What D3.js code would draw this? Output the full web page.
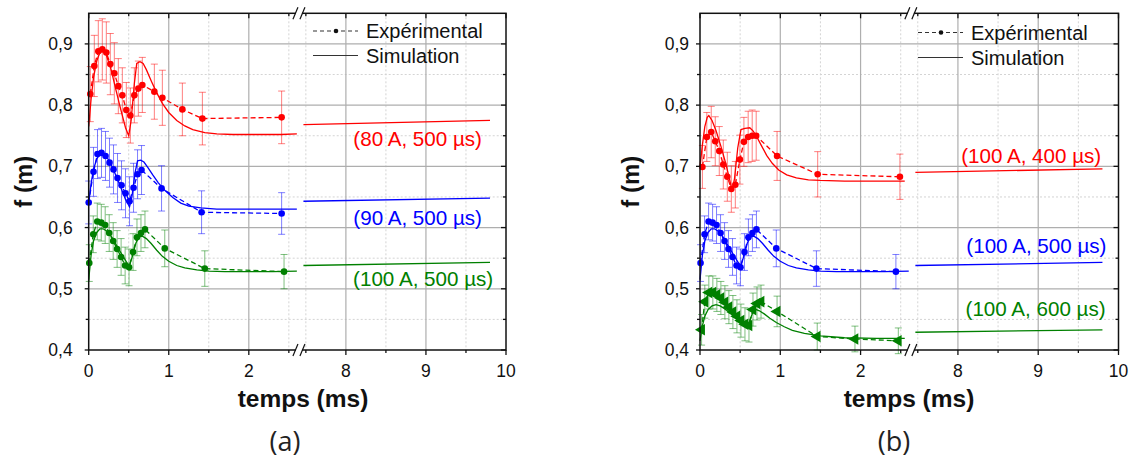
<!DOCTYPE html>
<html><head><meta charset="utf-8">
<script src="https://cdn.jsdelivr.net/npm/d3@7"></script>
<style>
body{margin:0;background:#fff}
svg{display:block}
text{font-family:"Liberation Sans",Arial,sans-serif}
</style>
</head><body>
<svg id="c" width="1136" height="474"></svg>
<script>
// ---------- axis ticks ----------
const X_TICKS = [0, 1, 2, 8, 9, 10];
const X_TICK_LABELS = ["0", "1", "2", "8", "9", "10"];
const X_MINOR = [0.5, 1.5, 2.5, 7.5, 8.5, 9.5];
const Y_TICKS = [0.4, 0.5, 0.6, 0.7, 0.8, 0.9];
const Y_TICK_LABELS = ["0,4", "0,5", "0,6", "0,7", "0,8", "0,9"];
const Y_MINOR = [0.45, 0.55, 0.65, 0.75, 0.85];
const X_BREAK = [2.62, 7.42];
const Y_DOMAIN = [0.4, 0.95];

// ---------- experimental data (ms, m, error) ----------
const exp80_t = [0.02,0.07,0.12,0.17,0.22,0.27,0.32,0.37,0.42,0.47,0.52,0.57,0.62,0.67,0.82,0.92,1.17,1.42,2.41];
const exp80_f = [0.818,0.864,0.888,0.891,0.886,0.867,0.852,0.831,0.816,0.792,0.783,0.816,0.827,0.833,0.822,0.812,0.793,0.778,0.780];
const exp80_e = [0.045,0.05,0.05,0.05,0.05,0.05,0.05,0.045,0.045,0.045,0.045,0.045,0.045,0.045,0.045,0.045,0.043,0.043,0.043];

const exp90_t = [0.0,0.06,0.11,0.16,0.21,0.26,0.31,0.36,0.41,0.46,0.51,0.56,0.61,0.66,0.91,1.41,2.41];
const exp90_f = [0.641,0.691,0.720,0.722,0.717,0.706,0.695,0.681,0.669,0.656,0.643,0.665,0.687,0.694,0.664,0.625,0.623];
const exp90_e = [0.035,0.04,0.04,0.04,0.04,0.04,0.04,0.04,0.04,0.04,0.04,0.04,0.04,0.04,0.037,0.035,0.034];

const exp100_500_t = [0.007,0.057,0.107,0.157,0.206,0.256,0.306,0.355,0.405,0.455,0.504,0.554,0.603,0.653,0.703,0.95,1.45,2.44];
const exp100_500_f = [0.542,0.589,0.610,0.608,0.604,0.591,0.578,0.565,0.552,0.538,0.535,0.560,0.584,0.591,0.597,0.566,0.533,0.528];
const exp100_500_e = [0.03,0.03,0.03,0.03,0.03,0.03,0.03,0.03,0.03,0.03,0.03,0.03,0.03,0.03,0.03,0.03,0.029,0.028];

const exp100_400_t = [0.03,0.085,0.14,0.19,0.24,0.29,0.34,0.39,0.44,0.497,0.547,0.60,0.65,0.70,0.96,1.466,2.49];
const exp100_400_f = [0.699,0.748,0.756,0.741,0.725,0.703,0.683,0.663,0.670,0.711,0.740,0.748,0.750,0.750,0.717,0.687,0.683];
const exp100_400_e = [0.035,0.04,0.042,0.04,0.04,0.04,0.04,0.038,0.038,0.04,0.04,0.042,0.042,0.04,0.04,0.037,0.037];

const exp100_600_t = [0.02,0.06,0.11,0.16,0.21,0.26,0.31,0.36,0.41,0.46,0.51,0.56,0.61,0.66,0.71,0.76,0.96,1.46,1.93,2.47];
const exp100_600_f = [0.433,0.479,0.494,0.494,0.490,0.485,0.478,0.470,0.462,0.455,0.448,0.442,0.440,0.466,0.476,0.479,0.463,0.422,0.418,0.415];
const exp100_600_e = [0.025,0.027,0.027,0.027,0.027,0.027,0.027,0.027,0.027,0.027,0.027,0.027,0.027,0.027,0.027,0.027,0.025,0.022,0.021,0.021];

// ---------- simulation curves ----------
const sim80_t = [0,0.03,0.06,0.1,0.14,0.18,0.22,0.28,0.34,0.40,0.46,0.50,0.53,0.57,0.60,0.64,0.68,0.72,0.78,0.85,0.92,1.0,1.1,1.2,1.3,1.45,1.6,1.8,2.1,2.4,2.6,7.47,9.8];
const sim80_f = [0.765,0.81,0.845,0.872,0.886,0.889,0.882,0.858,0.825,0.793,0.763,0.750,0.775,0.835,0.868,0.871,0.868,0.858,0.84,0.82,0.803,0.788,0.775,0.766,0.760,0.755,0.753,0.752,0.752,0.752,0.753,0.768,0.775];

const sim90_t = [0,0.03,0.06,0.1,0.14,0.18,0.22,0.28,0.34,0.40,0.46,0.51,0.54,0.58,0.61,0.65,0.69,0.74,0.8,0.87,0.95,1.05,1.15,1.25,1.4,1.6,1.9,2.2,2.6,7.47,9.8];
const sim90_f = [0.640,0.672,0.695,0.712,0.720,0.721,0.717,0.703,0.685,0.666,0.646,0.634,0.650,0.690,0.709,0.710,0.707,0.698,0.686,0.673,0.661,0.649,0.640,0.635,0.632,0.630,0.630,0.630,0.630,0.643,0.648];

const sim100_500_t = [0,0.03,0.06,0.1,0.14,0.18,0.24,0.30,0.36,0.42,0.48,0.51,0.55,0.59,0.63,0.67,0.72,0.78,0.85,0.92,1.0,1.1,1.2,1.35,1.5,1.7,2.0,2.3,2.6,7.47,9.8];
const sim100_500_f = [0.515,0.555,0.578,0.592,0.598,0.598,0.593,0.582,0.568,0.555,0.542,0.538,0.555,0.575,0.585,0.586,0.582,0.574,0.563,0.553,0.545,0.538,0.534,0.531,0.529,0.528,0.528,0.528,0.529,0.538,0.543];

const sim100_400_t = [0,0.03,0.06,0.09,0.11,0.15,0.2,0.26,0.32,0.37,0.40,0.43,0.47,0.51,0.56,0.62,0.66,0.70,0.76,0.83,0.9,0.98,1.08,1.2,1.35,1.5,1.8,2.2,2.55,7.47,9.8];
const sim100_400_f = [0.700,0.735,0.765,0.780,0.783,0.775,0.758,0.733,0.705,0.678,0.660,0.680,0.730,0.760,0.762,0.763,0.758,0.750,0.735,0.718,0.705,0.694,0.686,0.681,0.678,0.677,0.676,0.676,0.676,0.690,0.696];

const sim100_600_t = [0,0.03,0.06,0.1,0.15,0.2,0.25,0.3,0.36,0.42,0.48,0.54,0.6,0.63,0.66,0.7,0.74,0.8,0.87,0.95,1.05,1.15,1.3,1.5,1.8,2.2,2.55,7.47,9.8];
const sim100_600_f = [0.415,0.44,0.455,0.466,0.472,0.474,0.472,0.468,0.462,0.456,0.450,0.445,0.441,0.452,0.462,0.466,0.464,0.459,0.452,0.445,0.438,0.432,0.427,0.423,0.420,0.419,0.419,0.429,0.433];

// ---------- series labels ----------
const labelsA = ["(80 A, 500 µs)", "(90 A, 500 µs)", "(100 A, 500 µs)"];
const labelsB = ["(100 A, 400 µs)", "(100 A, 500 µs)", "(100 A, 600 µs)"];
const legendLabels = ["Expérimental", "Simulation"];
const panelTags = ["(a)", "(b)"];

// ---------- layout / styling ----------
const RED = "#ff0000", BLUE = "#0000ff", GREEN = "#008000";
const zip = (t, f, e) => t.map((v, i) => ({t: v, f: f[i], e: e ? e[i] : 0}));

const panels = [
  {
    left: 88.7, right: 506, top: 13.3, bottom: 350, tag: panelTags[0], tagX: 285,
    ylabX: 23, tickGap: 16, legX: 313, legY: [31, 55.5], titleX: 303,
    series: [
      {color: RED, exp: zip(exp80_t, exp80_f, exp80_e), sim: zip(sim80_t, sim80_f), marker: "circle",
       label: labelsA[0], lt: 9.70, lf: 0.746},
      {color: BLUE, exp: zip(exp90_t, exp90_f, exp90_e), sim: zip(sim90_t, sim90_f), marker: "circle",
       label: labelsA[1], lt: 9.70, lf: 0.617},
      {color: GREEN, exp: zip(exp100_500_t, exp100_500_f, exp100_500_e), sim: zip(sim100_500_t, sim100_500_f), marker: "circle",
       label: labelsA[2], lt: 9.84, lf: 0.516}
    ]
  },
  {
    left: 700, right: 1118.5, top: 13.3, bottom: 350, tag: panelTags[1], tagX: 894,
    ylabX: 630, tickGap: 11, legX: 918, legY: [32.5, 57.5], titleX: 909,
    series: [
      {color: RED, exp: zip(exp100_400_t, exp100_400_f, exp100_400_e), sim: zip(sim100_400_t, sim100_400_f), marker: "circle",
       label: labelsB[0], lt: 9.785, lf: 0.717},
      {color: BLUE, exp: zip(exp100_500_t, exp100_500_f, exp100_500_e), sim: zip(sim100_500_t, sim100_500_f), marker: "circle",
       label: labelsB[1], lt: 9.85, lf: 0.570},
      {color: GREEN, exp: zip(exp100_600_t, exp100_600_f, exp100_600_e), sim: zip(sim100_600_t, sim100_600_f), marker: "triangle",
       label: labelsB[2], lt: 9.84, lf: 0.467}
    ]
  }
];

const svg = d3.select("#c");

panels.forEach(p => {
  const span = X_BREAK[0] + (10 - X_BREAK[1]);
  const k = (p.right - p.left - 1) / span;
  const xb = p.left + X_BREAK[0] * k;
  const x = d3.scaleLinear().domain([0, X_BREAK[0], X_BREAK[1], 10]).range([p.left, xb, xb + 1, p.right]);
  const y = d3.scaleLinear().domain(Y_DOMAIN).range([p.bottom, p.top]);
  const g = svg.append("g");

  // grid
  g.selectAll(".gmy").data(Y_MINOR).join("line")
    .attr("x1", p.left).attr("x2", p.right).attr("y1", d => y(d)).attr("y2", d => y(d))
    .attr("stroke", "#d4d4d4").attr("stroke-width", 1).attr("stroke-dasharray", "2,2");
  g.selectAll(".gmx").data(X_MINOR).join("line")
    .attr("x1", d => x(d)).attr("x2", d => x(d)).attr("y1", p.top).attr("y2", p.bottom)
    .attr("stroke", "#d4d4d4").attr("stroke-width", 1).attr("stroke-dasharray", "2,2");
  g.selectAll(".gy").data(Y_TICKS.slice(1)).join("line")
    .attr("x1", p.left).attr("x2", p.right).attr("y1", d => y(d)).attr("y2", d => y(d))
    .attr("stroke", "#aeaeae").attr("stroke-width", 1.2);
  g.selectAll(".gx").data(X_TICKS.slice(1, -1)).join("line")
    .attr("x1", d => x(d)).attr("x2", d => x(d)).attr("y1", p.top).attr("y2", p.bottom)
    .attr("stroke", "#aeaeae").attr("stroke-width", 1.2);

  const simLine = d3.line().x(d => x(d.t)).y(d => y(d.f));
  const expLine = d3.line().x(d => x(d.t)).y(d => y(d.f));

  p.series.forEach(s => {
    // error bars
    const eb = g.append("g").attr("stroke", s.color).attr("stroke-opacity", 0.5).attr("stroke-width", 1);
    s.exp.forEach(d => {
      eb.append("line").attr("x1", x(d.t)).attr("x2", x(d.t)).attr("y1", y(d.f - d.e)).attr("y2", y(d.f + d.e));
      eb.append("line").attr("x1", x(d.t) - 3.5).attr("x2", x(d.t) + 3.5).attr("y1", y(d.f - d.e)).attr("y2", y(d.f - d.e));
      eb.append("line").attr("x1", x(d.t) - 3.5).attr("x2", x(d.t) + 3.5).attr("y1", y(d.f + d.e)).attr("y2", y(d.f + d.e));
    });
    // simulation in two segments
    const segA = s.sim.filter(d => d.t <= X_BREAK[0]);
    const segB = s.sim.filter(d => d.t >= X_BREAK[1]);
    [segA, segB].forEach(seg => {
      g.append("path").datum(seg).attr("d", simLine).attr("fill", "none")
        .attr("stroke", s.color).attr("stroke-width", 1.3);
    });
    // experimental dashed line
    g.append("path").datum(s.exp).attr("d", expLine).attr("fill", "none")
      .attr("stroke", s.color).attr("stroke-width", 1.3).attr("stroke-dasharray", "5,3");
    // markers
    if (s.marker === "circle") {
      g.selectAll(null).data(s.exp).join("circle")
        .attr("cx", d => x(d.t)).attr("cy", d => y(d.f)).attr("r", 3.3).attr("fill", s.color);
    } else {
      const sym = d3.symbol().type(d3.symbolTriangle).size(58);
      g.selectAll(null).data(s.exp).join("path")
        .attr("d", sym).attr("fill", s.color)
        .attr("transform", d => `translate(${x(d.t)},${y(d.f)}) rotate(-90)`);
    }
    // label
    g.append("text").attr("x", x(s.lt)).attr("y", y(s.lf)).attr("text-anchor", "end")
      .attr("dominant-baseline", "central").attr("font-size", "20.6px").attr("fill", s.color).text(s.label);
  });

  // frame
  g.append("rect").attr("x", p.left).attr("y", p.top).attr("width", p.right - p.left).attr("height", p.bottom - p.top)
    .attr("fill", "none").attr("stroke", "#111").attr("stroke-width", 1.5);

  // ticks
  const tk = g.append("g").attr("stroke", "#111").attr("stroke-width", 1.3);
  Y_TICKS.forEach(v => {
    tk.append("line").attr("x1", p.left - 4).attr("x2", p.left).attr("y1", y(v)).attr("y2", y(v));
    tk.append("line").attr("x1", p.right - 5).attr("x2", p.right).attr("y1", y(v)).attr("y2", y(v));
  });
  Y_MINOR.forEach(v => {
    tk.append("line").attr("x1", p.left - 3).attr("x2", p.left).attr("y1", y(v)).attr("y2", y(v));
    tk.append("line").attr("x1", p.right - 3).attr("x2", p.right).attr("y1", y(v)).attr("y2", y(v));
  });
  X_TICKS.forEach(v => {
    tk.append("line").attr("x1", x(v)).attr("x2", x(v)).attr("y1", p.bottom).attr("y2", p.bottom + 5);
    tk.append("line").attr("x1", x(v)).attr("x2", x(v)).attr("y1", p.top).attr("y2", p.top + 5);
  });
  X_MINOR.forEach(v => {
    tk.append("line").attr("x1", x(v)).attr("x2", x(v)).attr("y1", p.bottom).attr("y2", p.bottom + 3);
    tk.append("line").attr("x1", x(v)).attr("x2", x(v)).attr("y1", p.top).attr("y2", p.top + 3);
  });

  // axis break marks
  const bx = xb + 0.5;
  [p.top, p.bottom].forEach(yy => {
    g.append("rect").attr("x", bx - 3).attr("y", yy - 2).attr("width", 6).attr("height", 4).attr("fill", "#fff");
    g.append("line").attr("x1", bx - 6).attr("y1", yy + 6).attr("x2", bx - 1).attr("y2", yy - 6)
      .attr("stroke", "#111").attr("stroke-width", 1.2);
    g.append("line").attr("x1", bx + 1).attr("y1", yy + 6).attr("x2", bx + 6).attr("y2", yy - 6)
      .attr("stroke", "#111").attr("stroke-width", 1.2);
  });

  // tick labels
  g.selectAll(null).data(Y_TICKS).join("text")
    .attr("x", p.left - p.tickGap).attr("y", d => y(d)).attr("text-anchor", "end")
    .attr("dominant-baseline", "central").attr("font-size", "17.5px").attr("fill", "#111")
    .text((d, i) => Y_TICK_LABELS[i]);
  g.selectAll(null).data(X_TICKS).join("text")
    .attr("x", d => x(d)).attr("y", 377).attr("text-anchor", "middle")
    .attr("font-size", "17.5px").attr("fill", "#111")
    .text((d, i) => X_TICK_LABELS[i]);

  // axis titles
  g.append("text").attr("x", p.titleX).attr("y", 407).attr("text-anchor", "middle")
    .attr("font-size", "24.5px").attr("font-weight", "bold").attr("fill", "#111").text("temps (ms)");
  g.append("text").attr("transform", `translate(${p.ylabX},${(p.top + p.bottom) / 2}) rotate(-90)`)
    .attr("text-anchor", "middle").attr("dominant-baseline", "central")
    .attr("font-size", "24px").attr("font-weight", "bold").attr("fill", "#111").text("f (m)");

  // legend
  const lg = g.append("g");
  lg.append("line").attr("x1", p.legX).attr("x2", p.legX + 45).attr("y1", p.legY[0]).attr("y2", p.legY[0])
    .attr("stroke", "#333").attr("stroke-width", 1.2).attr("stroke-dasharray", "4,3");
  lg.append("circle").attr("cx", p.legX + 23).attr("cy", p.legY[0]).attr("r", 2.3).attr("fill", "#111");
  lg.append("line").attr("x1", p.legX).attr("x2", p.legX + 45).attr("y1", p.legY[1]).attr("y2", p.legY[1])
    .attr("stroke", "#333").attr("stroke-width", 1.2);
  legendLabels.forEach((t, i) => {
    lg.append("text").attr("x", p.legX + 53).attr("y", p.legY[i]).attr("dominant-baseline", "central")
      .attr("font-size", "20px").attr("fill", "#111").text(t);
  });

  // panel tag
  g.append("text").attr("x", p.tagX).attr("y", 440).attr("text-anchor", "middle")
    .attr("dominant-baseline", "central").attr("font-size", "27px")
    .style("font-family", "'Open Sans','Noto Sans',sans-serif").attr("fill", "#222").text(p.tag);
});
</script>
</body></html>
